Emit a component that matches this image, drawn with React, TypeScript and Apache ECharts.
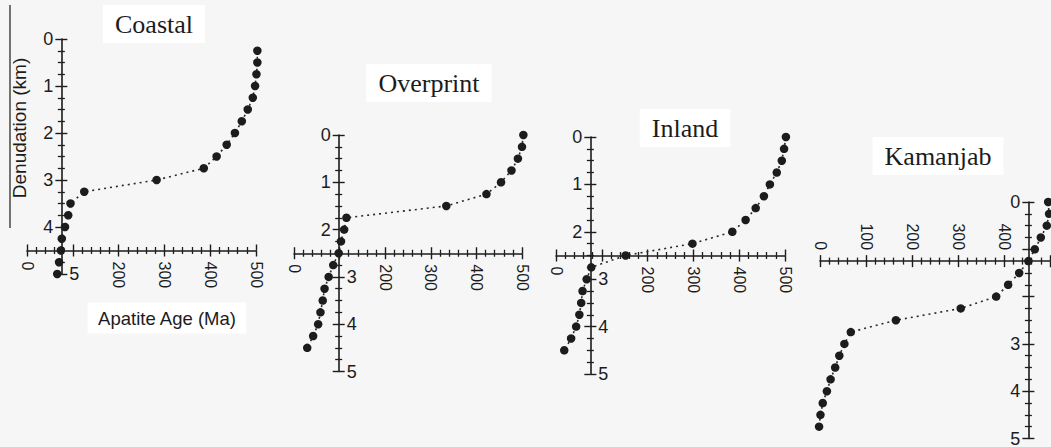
import React, { useEffect, useRef } from "react";
import * as echarts from "echarts";

// ---------- data ----------
const panelNames = ["Coastal", "Overprint", "Inland", "Kamanjab"];

const depthsCoastal = [0.25, 0.5, 0.75, 1.0, 1.25, 1.5, 1.75, 2.0, 2.25, 2.5, 2.75, 3.0, 3.25, 3.5, 3.75, 4.0, 4.25, 4.5, 4.75, 5.0];
const agesCoastal = [503, 503, 501, 498, 493, 482, 469, 454, 436, 414, 386, 283, 125, 95, 90, 83, 76, 74, 70, 66];

const depthsOverprint = [0, 0.25, 0.5, 0.75, 1.0, 1.25, 1.5, 1.75, 2.0, 2.25, 2.5, 2.75, 3.0, 3.25, 3.5, 3.75, 4.0, 4.25, 4.5];
const agesOverprint = [503, 500, 491, 477, 454, 422, 334, 115, 110, 103, 98, 86, 76, 67, 63, 58, 53, 42, 29];

const depthsInland = [0, 0.25, 0.5, 0.75, 1.0, 1.25, 1.5, 1.75, 2.0, 2.25, 2.5, 2.75, 3.0, 3.25, 3.5, 3.75, 4.0, 4.25, 4.5];
const agesInland = [502, 498, 493, 482, 467, 454, 436, 414, 385, 298, 152, 77, 67, 58, 55, 51, 44, 33, 18];

const depthsKamanjab = [0, 0.25, 0.5, 0.75, 1.0, 1.25, 1.5, 1.75, 2.0, 2.25, 2.5, 2.75, 3.0, 3.25, 3.5, 3.75, 4.0, 4.25, 4.5, 4.75];
const agesKamanjab = [496, 498, 493, 480, 467, 453, 433, 409, 383, 306, 165, 67, 53, 42, 33, 23, 15, 6, 1, -2];

// axis tick labels shown on each side of the crossing axes
const ageTicks = [0, 100, 200, 300, 400, 500];
const depthTicks = [0, 1, 2, 3, 4, 5];

const xLabelsAbove = [[], [], [], [0, 100, 200, 300, 400]];
const xLabelsBelow = [[0, 200, 300, 400, 500], [0, 200, 300, 400, 500], [0, 200, 300, 400, 500], [500]];
const yLabelsLeft = [[0, 1, 2, 3, 4], [0, 1, 2], [0, 1, 2], [0, 3, 4, 5]];
const yLabelsRight = [[5], [3, 4, 5], [3, 4, 5], []];

// axis crossing points (age, depth) for each panel
const crossAges = [75, 98, 75, 453];
const crossDepths = [4.5, 2.5, 2.5, 1.25];

// ---------- layout ----------
const layout = [
  { left: 27, top: 39, width: 229, height: 235, tx: 154, ty: 24 },
  { left: 294, top: 135, width: 228, height: 236.5, tx: 429, ty: 83 },
  { left: 556, top: 137, width: 229, height: 237, tx: 685, ty: 128 },
  { left: 820, top: 202, width: 230, height: 236.5, tx: 938, ty: 156 },
];
// the last panel's "500" sits at the page edge: nudge it just inside
const belowLabelNudge = [0, 0, 0, 14];

const INK = "#1c1c1c";
const SANS = "'Liberation Sans', Arial, Helvetica, sans-serif";
const SERIF = "'Liberation Serif', 'Times New Roman', serif";

const seriesData = [
  [agesCoastal, depthsCoastal],
  [agesOverprint, depthsOverprint],
  [agesInland, depthsInland],
  [agesKamanjab, depthsKamanjab],
];

function buildOption() {
  const grid: any[] = [];
  const xAxis: any[] = [];
  const yAxis: any[] = [];
  const series: any[] = [];
  const graphic: any[] = [];

  const ageMin = ageTicks[0];
  const ageMax = ageTicks[ageTicks.length - 1];
  const depMin = depthTicks[0];
  const depMax = depthTicks[depthTicks.length - 1];

  layout.forEach((L, i) => {
    grid.push({
      left: L.left,
      top: L.top,
      width: L.width,
      height: L.height,
      containLabel: false,
      outerBoundsMode: "none",
    });
    const xOff = -((crossDepths[i] - depMin) / (depMax - depMin)) * L.height;
    const yOff = -((crossAges[i] - ageMin) / (ageMax - ageMin)) * L.width;

    const xBase = (inside: boolean, labels: number[], nudge: number) => ({
      type: "value",
      gridIndex: i,
      min: ageMin,
      max: ageMax,
      interval: 100,
      position: "top",
      offset: xOff,
      axisLine: { show: !inside, onZero: false, lineStyle: { color: INK, width: 1.6 } },
      axisTick: { show: true, inside, length: 6, lineStyle: { color: INK, width: 1.4 } },
      minorTick: { show: true, splitNumber: 5, length: 3.5, lineStyle: { color: INK, width: 1.3 } },
      splitLine: { show: false },
      minorSplitLine: { show: false },
      axisLabel: {
        show: labels.length > 0,
        inside,
        rotate: 90,
        margin: 11,
        fontSize: 16,
        fontFamily: SANS,
        color: INK,
        rich: {
          n: { fontSize: 16, fontFamily: SANS, color: INK, padding: [0, 0, nudge, 0] },
        },
        formatter: (v: number) =>
          labels.indexOf(v) >= 0 ? (nudge ? "{n|" + v + "}" : String(v)) : "",
      },
    });
    xAxis.push(xBase(false, xLabelsAbove[i], 0));
    xAxis.push(xBase(true, xLabelsBelow[i], belowLabelNudge[i]));

    const yBase = (inside: boolean, labels: number[]) => ({
      type: "value",
      gridIndex: i,
      min: depMin,
      max: depMax,
      interval: 1,
      inverse: true,
      position: "left",
      offset: yOff,
      axisLine: { show: !inside, onZero: false, lineStyle: { color: INK, width: 1.6 } },
      axisTick: { show: true, inside, length: 6, lineStyle: { color: INK, width: 1.4 } },
      minorTick: { show: true, splitNumber: 4, length: 3.5, lineStyle: { color: INK, width: 1.3 } },
      splitLine: { show: false },
      minorSplitLine: { show: false },
      axisLabel: {
        show: labels.length > 0,
        inside,
        margin: 8,
        fontSize: 18,
        fontFamily: SANS,
        color: INK,
        formatter: (v: number) => (labels.indexOf(v) >= 0 ? String(v) : ""),
      },
    });
    yAxis.push(yBase(false, yLabelsLeft[i]));
    yAxis.push(yBase(true, yLabelsRight[i]));

    const [ages, depths] = seriesData[i];
    series.push({
      type: "line",
      name: panelNames[i],
      xAxisIndex: 2 * i,
      yAxisIndex: 2 * i,
      data: ages.map((a, k) => [a, depths[k]]),
      symbol: "circle",
      symbolSize: 8.5,
      showSymbol: true,
      clip: false,
      z: 5,
      itemStyle: { color: INK },
      lineStyle: { color: "#2a2a2a", width: 1.6, type: [2, 4] },
      emphasis: { disabled: true },
    });

    graphic.push({
      type: "text",
      x: L.tx,
      y: L.ty,
      z: 10,
      style: {
        text: panelNames[i],
        fontSize: 26,
        fontFamily: SERIF,
        fill: INK,
        align: "center",
        verticalAlign: "middle",
        backgroundColor: "#ffffff",
        padding: [6, 12],
      },
    });
  });

  graphic.push({
    type: "text",
    x: 167,
    y: 318,
    z: 10,
    style: {
      text: "Apatite Age (Ma)",
      fontSize: 18.5,
      fontFamily: SANS,
      fill: INK,
      align: "center",
      verticalAlign: "middle",
      backgroundColor: "#ffffff",
      padding: [6, 10],
    },
  });
  graphic.push({
    type: "line",
    shape: { x1: 10, y1: 5, x2: 10, y2: 228 },
    style: { stroke: INK, lineWidth: 1.2 },
  });
  graphic.push({
    type: "text",
    x: 19,
    y: 128,
    rotation: Math.PI / 2,
    style: {
      text: "Denudation (km)",
      fontSize: 19,
      fontFamily: SANS,
      fill: INK,
      align: "center",
      verticalAlign: "middle",
    },
  });

  return {
    animation: false,
    backgroundColor: "#f6f6f6",
    grid,
    xAxis,
    yAxis,
    series,
    graphic,
  };
}

export default function App() {
  const ref = useRef<HTMLDivElement>(null);
  useEffect(() => {
    if (!ref.current) return;
    const chart = echarts.init(ref.current, undefined, { renderer: "svg" });
    chart.setOption(buildOption() as any);
    return () => chart.dispose();
  }, []);
  return (
    <div
      ref={ref}
      style={{ position: "absolute", left: 0, top: 0, width: 1051, height: 447 }}
    />
  );
}
